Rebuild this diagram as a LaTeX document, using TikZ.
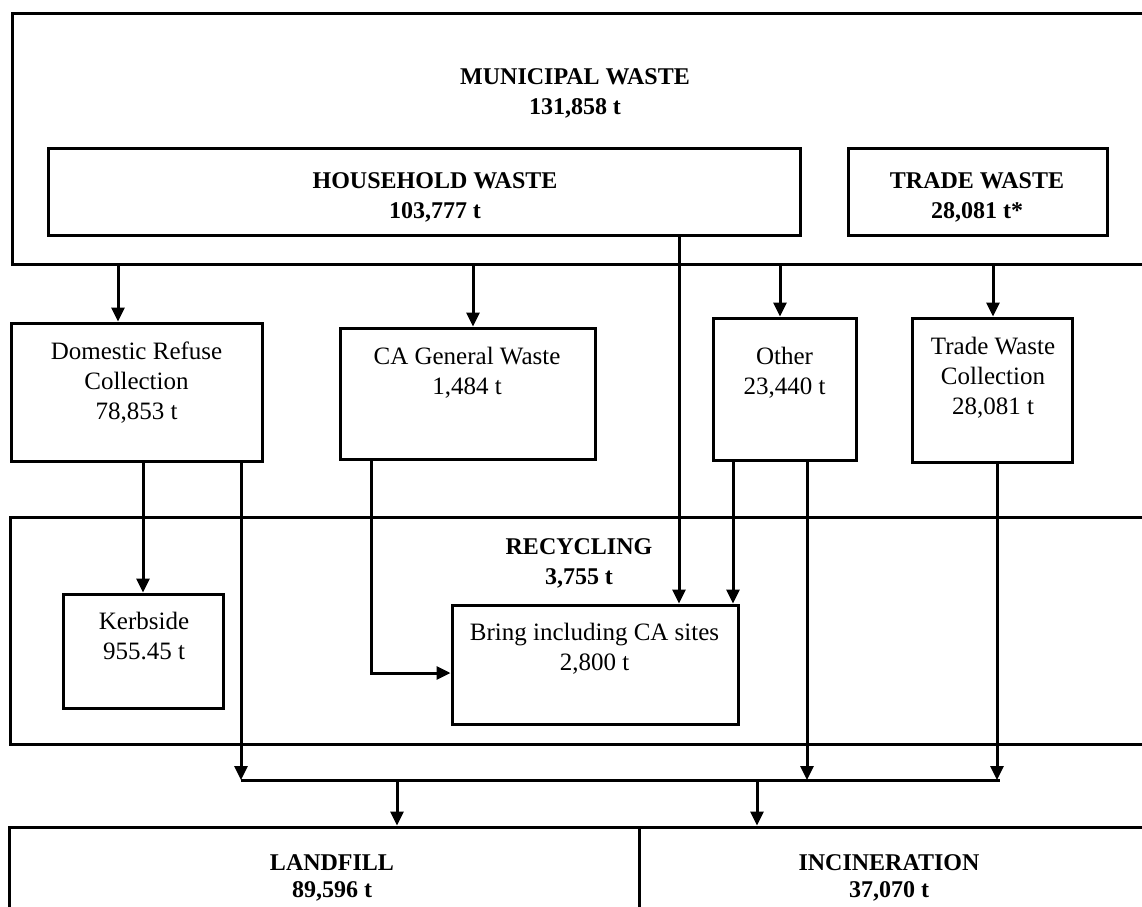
\documentclass[tikz,border=0pt]{standalone}
\usepackage{fontspec}
\setmainfont{Liberation Serif}
\usetikzlibrary{positioning, arrows.meta}

\begin{document}
\begin{tikzpicture}[x=1pt, y=-1pt, >={Triangle[length=14pt, width=13pt]}, line width=3pt,
    box/.style={draw, rectangle, inner sep=0pt},
    txt/.style={align=center, inner sep=0pt, anchor=north, font=\fontsize{25}{30}\selectfont},
    head/.style={txt, font=\fontsize{24}{30}\selectfont\bfseries}]
    \useasboundingbox (0,0) rectangle (1142,906);
    \clip (0,0) rectangle (1142,906);

    % outer bands
    \node[box, minimum width=1160pt, minimum height=251pt] (muni) at (592,138.5) {};
    \node[box, minimum width=1160pt, minimum height=227pt] (recyc) at (590,630.5) {};
    \node[box, minimum width=630pt, minimum height=110pt] (land) at (324,882) {};
    \node[box, minimum width=520pt, minimum height=110pt] (incin) at (899,882) {};

    % boxes
    \node[box, minimum width=752pt, minimum height=87pt] (house) at (424,191.5) {};
    \node[box, minimum width=259pt, minimum height=87pt] (trade) at (977.5,191.5) {};
    \node[box, minimum width=251pt, minimum height=138pt] (drc) at (136.5,392) {};
    \node[box, minimum width=255pt, minimum height=131pt] (cagw) at (467.5,393.5) {};
    \node[box, minimum width=143pt, minimum height=142pt] (other) at (784.5,389) {};
    \node[box, minimum width=160pt, minimum height=144pt] (twc) at (992,390) {};
    \node[box, minimum width=160pt, minimum height=114pt] (kerb) at (143,651) {};
    \node[box, minimum width=286pt, minimum height=119pt] (bring) at (595,664.5) {};

    % texts
    \node[head] (muniT) at (575,67) {MUNICIPAL WASTE\\131,858 t};
    \node[head] (houseT) at (435,171) {HOUSEHOLD WASTE\\103,777 t};
    \node[head] (tradeT) at (977,171) {TRADE WASTE\\28,081 t*};
    \node[txt] (drcT) at (136.5,340) {Domestic Refuse\\Collection\\78,853 t};
    \node[txt] (cagwT) at (467,346) {CA General Waste\\1,484 t};
    \node[txt] (otherT) at (784.5,346) {Other\\23,440 t};
    \node[txt] (twcT) at (993,336) {Trade Waste\\Collection\\28,081 t};
    \node[head] (recycT) at (579,537) {RECYCLING\\3,755 t};
    \node[txt] (kerbT) at (144,611) {Kerbside\\955.45 t};
    \node[txt] (bringT) at (594.5,622) {Bring including CA sites\\2,800 t};
    \node[head, font=\fontsize{24}{27}\selectfont\bfseries] (landT) at (332,853) {LANDFILL\\89,596 t};
    \node[head, font=\fontsize{24}{27}\selectfont\bfseries] (incinT) at (889,853) {INCINERATION\\37,070 t};

    % flows
    \foreach \x/\to in {118/drc, 473/cagw, 780/other, 993/twc}
        \draw[->] (muni.south -| \x,0) -- (\to.north -| \x,0);
    \coordinate (busL) at (241,780);
    \coordinate (busR) at (1000,780);
    \draw (busL) -- (busR);
    \draw[->] (drc.south -| kerb.north) -- (kerb.north);
    \draw[->] (drc.south -| busL) -- (busL);
    \draw[->] (cagw.south -| 371,0) |- (bring.west |- 0,673);
    \draw[->] (house.south -| 679,0) -- (bring.north -| 679,0);
    \draw[->] (other.south -| 733,0) -- (bring.north -| 733,0);
    \draw[->] (other.south -| 807,0) -- (busL -| 807,0);
    \draw[->] (twc.south -| 997,0) -- (busL -| 997,0);
    \draw[->] (busL -| 397,0) -- (land.north -| 397,0);
    \draw[->] (busL -| 757,0) -- (incin.north -| 757,0);
\end{tikzpicture}
\end{document}
